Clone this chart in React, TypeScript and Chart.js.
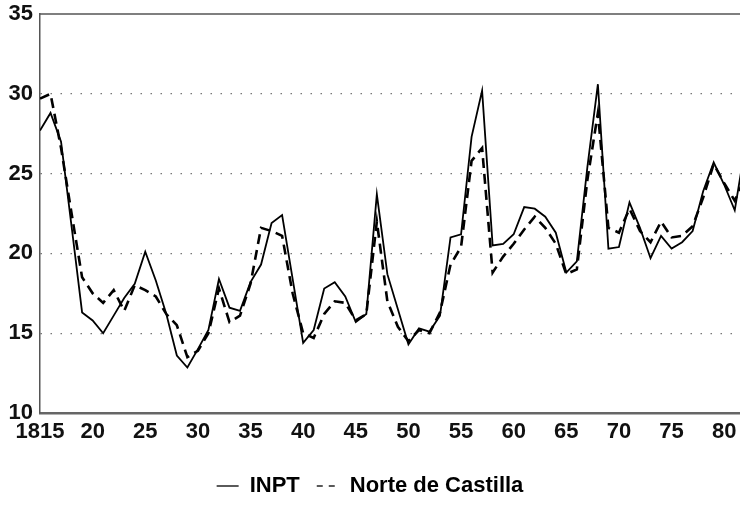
import React, { useEffect, useRef } from 'react';
import { Chart, registerables } from 'chart.js';

Chart.register(...registerables);

const years = [
  1815, 1816, 1817, 1818, 1819, 1820, 1821, 1822, 1823, 1824,
  1825, 1826, 1827, 1828, 1829, 1830, 1831, 1832, 1833, 1834,
  1835, 1836, 1837, 1838, 1839, 1840, 1841, 1842, 1843, 1844,
  1845, 1846, 1847, 1848, 1849, 1850, 1851, 1852, 1853, 1854,
  1855, 1856, 1857, 1858, 1859, 1860, 1861, 1862, 1863, 1864,
  1865, 1866, 1867, 1868, 1869, 1870, 1871, 1872, 1873, 1874,
  1875, 1876, 1877, 1878, 1879, 1880, 1881, 1882,
];

const inpt = [
  27.7, 28.8, 27.0, 21.7, 16.3, 15.8, 15.0, 16.1, 17.2, 18.1,
  20.1, 18.3, 16.2, 13.6, 12.85, 14.0, 15.2, 18.4, 16.6, 16.4,
  18.2, 19.3, 21.9, 22.4, 18.4, 14.4, 15.2, 17.8, 18.2, 17.3,
  15.7, 16.2, 23.7, 18.7, 16.5, 14.3, 15.3, 15.1, 16.1, 21.0,
  21.2, 27.3, 30.2, 20.5, 20.6, 21.2, 22.9, 22.8, 22.3, 21.3,
  18.8, 19.5, 25.4, 30.6, 20.3, 20.4, 23.2, 21.6, 19.7, 21.1,
  20.3, 20.7, 21.4, 23.9, 25.7, 24.3, 22.7, 26.7,
];

const norteCastilla = [
  29.7, 30.0, 26.6, 22.5, 18.5, 17.5, 16.9, 17.7, 16.4, 18.0,
  17.7, 17.3, 16.2, 15.5, 13.5, 13.9, 15.0, 17.8, 15.7, 16.1,
  18.1, 21.6, 21.4, 21.1, 17.5, 15.0, 14.7, 16.2, 17.0, 16.9,
  15.8, 16.2, 22.0, 17.0, 15.4, 14.5, 15.2, 15.0, 16.3, 19.3,
  20.4, 25.8, 26.6, 18.8, 19.8, 20.6, 21.5, 22.3, 21.6, 20.6,
  18.7, 19.0, 24.6, 28.8, 21.6, 21.3, 22.8, 21.4, 20.7, 22.0,
  21.0, 21.1, 21.7, 23.5, 25.6, 24.4, 23.3, 24.8,
];

const xTickValues = [1815, 1820, 1825, 1830, 1835, 1840, 1845, 1850, 1855, 1860, 1865, 1870, 1875, 1880];
const xTickLabels = ['1815', '20', '25', '30', '35', '40', '45', '50', '55', '60', '65', '70', '75', '80'];
const seriesNames = ['INPT', 'Norte de Castilla'];

const FONT_FAMILY = "'Liberation Sans', Arial, Helvetica, sans-serif";

const topBorder = {
  id: 'topBorder',
  beforeDatasetsDraw(chart: any) {
    const { ctx, chartArea } = chart;
    ctx.save();
    ctx.strokeStyle = '#555';
    ctx.lineWidth = 1.5;
    ctx.beginPath();
    ctx.moveTo(chartArea.left, chartArea.top);
    ctx.lineTo(chartArea.right, chartArea.top);
    ctx.stroke();
    ctx.restore();
  },
};

export default function App() {
  const canvasRef = useRef<HTMLCanvasElement | null>(null);

  useEffect(() => {
    if (!canvasRef.current) return;
    const chart = new Chart(canvasRef.current, {
      type: 'line',
      data: {
        datasets: [
          {
            label: seriesNames[0],
            data: years.map((yr, i) => ({ x: yr, y: inpt[i] })),
            borderColor: '#000',
            borderWidth: 1.8,
            pointRadius: 0,
            tension: 0,
            fill: false,
          },
          {
            label: seriesNames[1],
            data: years.map((yr, i) => ({ x: yr, y: norteCastilla[i] })),
            borderColor: '#000',
            borderWidth: 2.6,
            borderDash: [10, 6],
            pointRadius: 0,
            tension: 0,
            fill: false,
          },
        ],
      },
      options: {
        animation: false,
        responsive: false,
        maintainAspectRatio: false,
        layout: { padding: { top: 14, left: 0, right: 0, bottom: 0 } },
        plugins: {
          tooltip: { enabled: false },
          legend: {
            position: 'bottom',
            labels: {
              usePointStyle: true,
              pointStyle: 'line',
              pointStyleWidth: 22,
              padding: 17,
              color: '#000',
              font: { family: FONT_FAMILY, size: 22, weight: 'bold' },
              generateLabels: (c: any) => {
                const items = Chart.defaults.plugins.legend.labels.generateLabels(c);
                return items.map((it: any) => ({
                  ...it,
                  lineWidth: 1.3,
                  strokeStyle: '#000',
                  lineDash: it.datasetIndex === 1 ? [6, 6] : [],
                  fontColor: '#000',
                }));
              },
            },
          },
        },
        scales: {
          x: {
            type: 'linear',
            min: 1815,
            max: 1881.5,
            afterBuildTicks: (axis: any) => {
              axis.ticks = xTickValues.map((v) => ({ value: v }));
            },
            afterFit: (s: any) => {
              s.height = 45;
              s.paddingRight = 0;
            },
            grid: { display: false, drawTicks: false },
            border: { display: true, color: '#666', width: 2.5 },
            ticks: {
              padding: 6,
              color: '#111',
              autoSkip: false,
              maxRotation: 0,
              font: { family: FONT_FAMILY, size: 22, weight: 'bold' },
              callback: (value: any) => {
                const i = xTickValues.indexOf(Number(value));
                return i >= 0 ? xTickLabels[i] : '';
              },
            },
          },
          y: {
            min: 10,
            max: 35,
            afterFit: (s: any) => {
              s.width = 40;
              s.paddingTop = 0;
              s.paddingBottom = 0;
            },
            grid: {
              drawTicks: false,
              lineWidth: 1.2,
              color: (ctx: any) =>
                ctx.tick && ctx.tick.value > 10 && ctx.tick.value < 35 ? '#777' : 'rgba(0,0,0,0)',
            },
            border: { display: true, color: '#555', width: 1.5, dash: [1.5, 8.5] },
            ticks: {
              stepSize: 5,
              padding: 7,
              color: '#111',
              font: { family: FONT_FAMILY, size: 22, weight: 'bold' },
            },
          },
        },
      },
      plugins: [topBorder],
    } as any);
    return () => chart.destroy();
  }, []);

  return (
    <div style={{ position: 'absolute', left: 0, top: 0, width: 740, height: 507, background: '#fff' }}>
      <canvas ref={canvasRef} width={740} height={507} style={{ display: 'block' }} />
    </div>
  );
}
